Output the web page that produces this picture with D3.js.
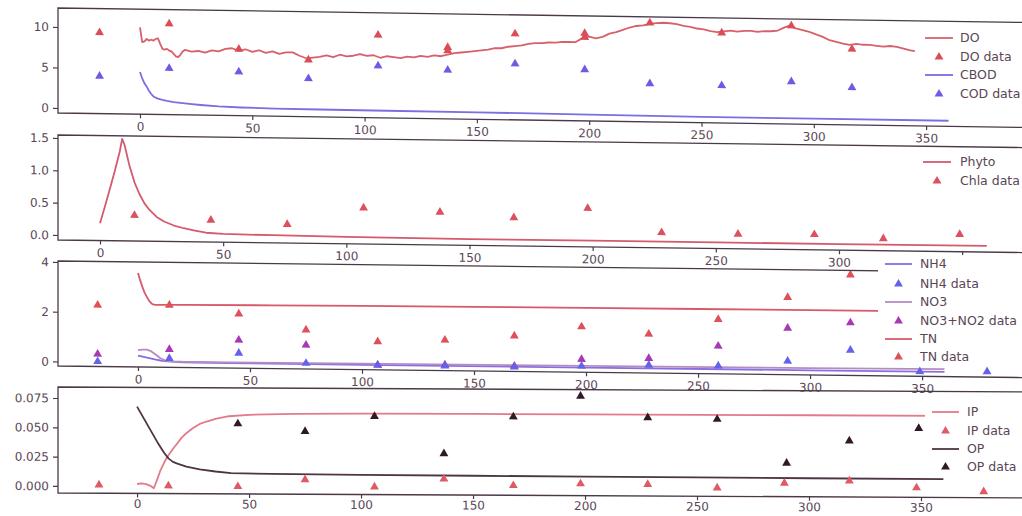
<!DOCTYPE html>
<html>
<head>
<meta charset="utf-8">
<script src="https://cdn.jsdelivr.net/npm/d3@7"></script>
<style>
  html, body { margin: 0; padding: 0; background: #fff; }
  svg { display: block; font-family: "DejaVu Sans", sans-serif; }
</style>
</head>
<body>
<script>
// ---- Panel 1: dissolved oxygen and CBOD ----
const doDay = [0,1,2,3,4,5,6,7,8,9,10,11,12,13,14,15,16,17,18,19,20,
  23,26,29,32,35,38,41,44,47,50,53,56,59,62,65,68,71,74,77,80,83,86,89,92,95,98,
  101,104,107,110,113,116,119,122,125,128,131,134,137,140,143,146,149,152,155,158,
  161,164,167,170,173,176,179,182,185,188,191,194,197,200,203,206,209,212,215,218,
  221,224,227,230,233,236,239,242,245,248,251,254,257,260,263,266,269,272,275,278,
  281,284,287,289,292,295,298,301,304,307,310,313,316,319,322,325,328,331,334,337,
  340,343,345];
const doVal = [10.1,8.3,8.4,8.7,8.5,8.6,8.5,8.7,8.8,8.1,7.5,7.4,7.5,7.3,7.2,6.9,6.6,6.5,6.8,7.2,7.4,
  7.2,7.3,7.1,7.4,7.3,7.6,7.7,7.4,7.6,7.3,7.5,7.2,7.4,7.1,7.3,7.3,6.9,6.6,6.7,6.8,7.0,6.8,7.1,6.9,7.0,7.2,
  7.0,7.1,6.8,7.0,6.9,6.8,7.0,6.9,7.1,7.0,7.2,7.1,7.3,7.5,7.6,7.7,7.8,7.9,8.0,8.2,
  8.2,8.4,8.5,8.6,8.8,8.9,8.9,9.0,9.0,9.1,9.1,9.1,9.6,9.8,9.6,9.8,10.2,10.4,10.7,11.0,
  11.2,11.3,11.5,11.6,11.65,11.6,11.5,11.3,11.2,11.0,10.9,10.7,10.6,10.7,10.8,10.7,10.8,10.8,10.7,10.8,
  10.8,10.9,11.3,11.5,11.2,11.0,10.8,10.5,10.2,9.8,9.6,9.4,9.25,9.4,9.3,9.3,9.2,9.1,9.2,9.1,
  8.9,8.7,8.6];
const doDataDay = [-18,13,44,75,106,137,137,167,198,198,227,259,290,317];
const doData    = [9.4,10.6,7.6,6.4,9.6,8.2,7.8,10.0,10.2,9.7,11.6,10.5,11.5,8.75];
const cbodDay = [0,1,2,3,4,5,6,7,8,10,12,15,18,22,27,35,45,60,80,110,150,200,250,300,360];
const cbodVal = [4.6,3.8,3.2,2.8,2.3,1.9,1.6,1.45,1.35,1.2,1.08,0.95,0.85,0.74,0.63,0.5,0.4,0.33,0.3,0.27,0.24,0.17,0.1,0.08,0.07];
const codDay  = [-18,13,44,75,106,137,167,198,227,259,290,317];
const codData = [4.0,5.1,4.8,4.1,5.8,5.4,6.3,5.7,4.1,4.0,4.6,4.0];

// ---- Panel 2: phytoplankton / chlorophyll-a ----
const phytoDay = [0,2,4,6,8,9,10,12,14,16,18,20,23,26,30,34,38,43,50,70,100,150,200,250,300,360];
const phytoVal = [0.19,0.45,0.72,1.0,1.3,1.5,1.4,1.08,0.83,0.65,0.51,0.41,0.3,0.23,0.17,0.13,0.1,0.065,0.05,0.04,0.03,0.02,0.02,0.02,0.015,0.02];
const chlaDay  = [14,45,76,107,138,168,198,228,259,290,318,349];
const chlaData = [0.32,0.26,0.21,0.48,0.43,0.36,0.52,0.16,0.15,0.16,0.11,0.19];

// ---- Panel 3: nitrogen ----
const nDay   = [0,2,4,6,8,10,12,15,20,40,100,200,300,360];
const nh4Val = [0.28,0.24,0.2,0.16,0.12,0.09,0.07,0.05,0.03,0.02,0.01,0.01,0.01,0.01];
const no3Val = [0.5,0.52,0.52,0.45,0.32,0.18,0.1,0.06,0.05,0.05,0.06,0.08,0.1,0.12];
const tnDay  = [0,1,2,3,4,5,6,7,8,10,20,60,100,150,200,250,300,360];
const tnVal  = [3.6,3.3,3.03,2.8,2.63,2.48,2.38,2.33,2.32,2.33,2.34,2.36,2.38,2.4,2.41,2.42,2.43,2.43];
const nh4DataDay = [-18,14,45,75,107,137,168,198,228,259,290,318,349,379];
const nh4Data    = [0.02,0.18,0.42,0.05,0.01,0.01,0.0,0.07,0.14,0.14,0.37,0.84,0.01,0.04];
const no3DataDay = [-18,14,45,75,107,137,168,198,228,259,290,318];
const no3Data    = [0.32,0.54,0.95,0.78,0.01,0.05,0.04,0.34,0.41,0.94,1.69,1.94];
const tnDataDay  = [-18,14,45,75,107,137,168,198,228,259,290,318];
const tnData     = [2.29,2.32,2.0,1.39,0.95,1.05,1.25,1.65,1.39,2.01,2.93,3.86];

// ---- Panel 4: phosphorus ----
const ipDay = [0,2,4,6,7.5,9,10.5,12,13.4,16,18,20,22,25,28,31,35,41,50,70,100,150,200,250,300,360];
const ipVal = [0.002,0.0025,0.002,0.0005,-0.0015,0.006,0.014,0.02,0.025,0.032,0.037,0.042,0.0455,0.05,0.0535,0.0556,0.0578,0.0602,0.0615,0.0625,0.063,0.0632,0.0633,0.0634,0.0635,0.0635];
const opDay = [0,3,6,9,12,14,16,18,22,28,35,42,60,100,150,200,250,300,360];
const opVal = [0.068,0.058,0.048,0.038,0.029,0.024,0.021,0.0195,0.017,0.0148,0.013,0.0117,0.0112,0.0108,0.0105,0.0102,0.01,0.0098,0.0096];
const ipDataDay = [-17,14,45,75,106,137,168,198,228,259,289,318,348,378];
const ipData    = [0.0011,0.0006,0.0003,0.0064,0.0005,0.0077,0.0023,0.0041,0.0038,0.0011,0.0055,0.0077,0.0021,-0.0009];
const opDataDay = [45,75,106,137,168,198,228,259,290,318,349];
const opData    = [0.0538,0.0476,0.0607,0.0292,0.0609,0.0788,0.0607,0.0597,0.0225,0.0418,0.0528];

const xTicks = [0,50,100,150,200,250,300,350];

const W = 1022, H = 516;
const AXIS = "#4a3a48", TEXT = "#5a4656";
const svg = d3.select("body").append("svg").attr("width", W).attr("height", H);

const zip = (xs, ys) => xs.map((d, i) => [d, ys[i]]);

const panels = [
  {
    top: 8, bottom: 113, xDom: [-36.5, 392.7], yDom: [-0.62, 12.35],
    yTicks: [0,5,10], yFmt: d3.format("d"), skew: 0.015, xPad: 4,
    lines: [
      { data: zip(doDay, doVal), color: "#d8606c" },
      { data: zip(cbodDay, cbodVal), color: "#7b6ee0" }
    ],
    points: [
      { data: zip(doDataDay, doData), color: "#dc4c56" },
      { data: zip(codDay, codData), color: "#6b5ce6" }
    ],
    legend: { box: [917, 28, 105, 74], lx: [925, 953], tx: 960, rows: [
      { y: 38, kind: "line", color: "#d8606c", label: "DO" },
      { y: 57, kind: "tri", color: "#dc4c56", label: "DO data" },
      { y: 75, kind: "line", color: "#7b6ee0", label: "CBOD" },
      { y: 94, kind: "tri", color: "#6b5ce6", label: "COD data" }
    ]}
  },
  {
    top: 135, bottom: 240, xDom: [-17.05, 374.3], yDom: [-0.077, 1.546],
    yTicks: [0,0.5,1,1.5], yFmt: d3.format(".1f"), skew: 0.013, xPad: 4,
    lines: [ { data: zip(phytoDay, phytoVal), color: "#d45a6c" } ],
    points: [ { data: zip(chlaDay, chlaData), color: "#dc5060" } ],
    legend: { box: [915, 152, 107, 40], lx: [923, 951], tx: 960, rows: [
      { y: 162, kind: "line", color: "#d45a6c", label: "Phyto" },
      { y: 181, kind: "tri", color: "#dc5060", label: "Chla data" }
    ]}
  },
  {
    top: 261, bottom: 366, xDom: [-35.7, 394.6], yDom: [-0.18, 4.04],
    yTicks: [0,2,4], yFmt: d3.format("d"), skew: 0.012, xPad: 4,
    lines: [
      { data: zip(nDay, nh4Val), color: "#8a6ee0" },
      { data: zip(nDay, no3Val), color: "#b48cc4" },
      { data: zip(tnDay, tnVal), color: "#d85a6a" }
    ],
    points: [
      { data: zip(tnDataDay, tnData), color: "#e05058" },
      { data: zip(no3DataDay, no3Data), color: "#a838b4" },
      { data: zip(nh4DataDay, nh4Data), color: "#6462e8" }
    ],
    legend: { box: [878, 255, 144, 110], lx: [885, 912], tx: 920, rows: [
      { y: 264, kind: "line", color: "#8a6ee0", label: "NH4" },
      { y: 284, kind: "tri", color: "#6462e8", label: "NH4 data" },
      { y: 302, kind: "line", color: "#b48cc4", label: "NO3" },
      { y: 321, kind: "tri", color: "#a838b4", label: "NO3+NO2 data" },
      { y: 339, kind: "line", color: "#d85a6a", label: "TN" },
      { y: 357, kind: "tri", color: "#e05058", label: "TN data" }
    ]}
  },
  {
    top: 387, bottom: 493, xDom: [-35.3, 395.1], yDom: [-0.006, 0.0844],
    yTicks: [0,0.025,0.05,0.075], yFmt: d3.format(".3f"), skew: 0.005, xPad: 2,
    lines: [
      { data: zip(ipDay, ipVal), color: "#e27a8a" },
      { data: zip(opDay, opVal), color: "#4e3444" }
    ],
    points: [
      { data: zip(ipDataDay, ipData), color: "#e05a66" },
      { data: zip(opDataDay, opData), color: "#2e1a26" }
    ],
    legend: { box: [925, 402, 97, 75], lx: [932, 959], tx: 967, rows: [
      { y: 412, kind: "line", color: "#e27a8a", label: "IP" },
      { y: 431, kind: "tri", color: "#e05a66", label: "IP data" },
      { y: 449, kind: "line", color: "#4e3444", label: "OP" },
      { y: 467, kind: "tri", color: "#2e1a26", label: "OP data" }
    ]}
  }
];

const LEFT = 58, RIGHT = 1022;
const tri = d3.symbol().type(d3.symbolTriangle).size(34);

panels.forEach((p, pi) => {
  const x = d3.scaleLinear().domain(p.xDom).range([LEFT, RIGHT]);
  const y = d3.scaleLinear().domain(p.yDom).range([p.bottom, p.top]);
  const ang = Math.atan(p.skew) * 180 / Math.PI;
  const g = svg.append("g")
    .attr("transform", `translate(0,${-p.skew * LEFT}) skewY(${ang})`);

  const clipId = "clip" + pi;
  g.append("clipPath").attr("id", clipId).append("rect")
    .attr("x", LEFT).attr("y", p.top).attr("width", RIGHT - LEFT).attr("height", p.bottom - p.top);

  const plot = g.append("g").attr("clip-path", `url(#${clipId})`);
  const line = d3.line().x(d => x(d[0])).y(d => y(d[1])).curve(d3.curveLinear);

  p.lines.forEach(s => {
    plot.append("path").attr("d", line(s.data))
      .attr("fill", "none").attr("stroke", s.color)
      .attr("stroke-width", 1.8).attr("stroke-linejoin", "round");
  });
  p.points.forEach(s => {
    plot.selectAll(null).data(s.data).enter().append("path")
      .attr("d", tri)
      .attr("transform", d => `translate(${x(d[0])},${y(d[1])})`)
      .attr("fill", s.color);
  });

  // spines: left, top, bottom
  g.append("path")
    .attr("d", `M${RIGHT},${p.top}H${LEFT}V${p.bottom}H${RIGHT}`)
    .attr("fill", "none").attr("stroke", AXIS).attr("stroke-width", 1.3);

  const yAx = g.append("g").attr("transform", `translate(${LEFT},0)`)
    .call(d3.axisLeft(y).tickValues(p.yTicks).tickFormat(p.yFmt).tickSize(5).tickPadding(4));
  const xAx = g.append("g").attr("transform", `translate(0,${p.bottom})`)
    .call(d3.axisBottom(x).tickValues(xTicks).tickFormat(d3.format("d")).tickSize(4).tickPadding(p.xPad));
  [yAx, xAx].forEach(a => {
    a.select(".domain").remove();
    a.selectAll("line").attr("stroke", AXIS).attr("stroke-width", 1.2);
    a.selectAll("text").attr("fill", TEXT).attr("font-size", 12)
      .attr("font-family", "DejaVu Sans, sans-serif");
  });

  // legend
  const L = p.legend;
  const lg = svg.append("g");
  lg.append("rect").attr("x", L.box[0]).attr("y", L.box[1])
    .attr("width", L.box[2]).attr("height", L.box[3]).attr("fill", "#fff");
  L.rows.forEach(r => {
    if (r.kind === "line") {
      lg.append("line").attr("x1", L.lx[0]).attr("x2", L.lx[1])
        .attr("y1", r.y).attr("y2", r.y)
        .attr("stroke", r.color).attr("stroke-width", 1.8);
    } else {
      lg.append("path").attr("d", tri)
        .attr("transform", `translate(${(L.lx[0] + L.lx[1]) / 2},${r.y})`)
        .attr("fill", r.color);
    }
    lg.append("text").attr("x", L.tx).attr("y", r.y).attr("dy", "0.35em")
      .attr("fill", TEXT).attr("font-size", 12.5).text(r.label);
  });
});
</script>
</body>
</html>
